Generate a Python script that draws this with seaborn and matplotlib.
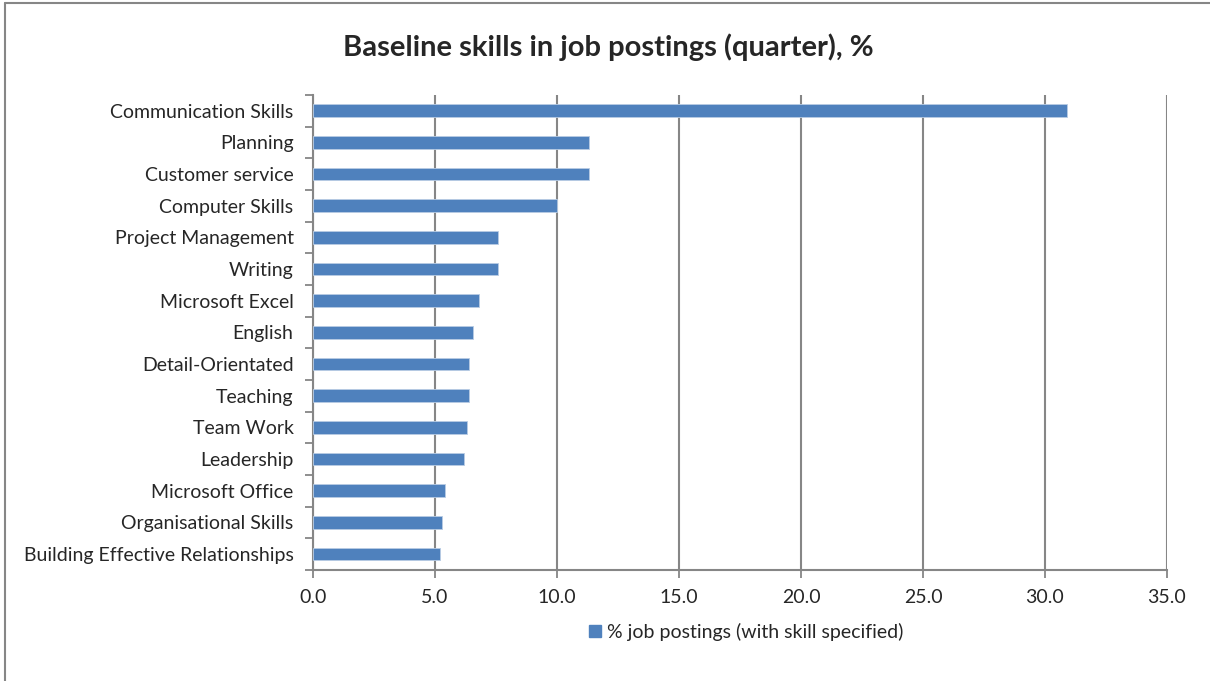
import numpy as np
import pandas as pd
import matplotlib
matplotlib.use("Agg")
import matplotlib.pyplot as plt
import seaborn as sns
from matplotlib.lines import Line2D
from matplotlib.patches import Patch

skills = ["Communication Skills", "Planning", "Customer service", "Computer Skills",
          "Project Management", "Writing", "Microsoft Excel", "English",
          "Detail-Orientated", "Teaching", "Team Work", "Leadership",
          "Microsoft Office", "Organisational Skills", "Building Effective Relationships"]
pct = [30.9, 11.3, 11.3, 10.0, 7.6, 7.6, 6.8, 6.55, 6.4, 6.4, 6.3, 6.2, 5.4, 5.3, 5.2]
x_ticks = [0, 5, 10, 15, 20, 25, 30, 35]
legend_label = "% job postings (with skill specified)"

df = pd.DataFrame({"skill": skills, "pct": pct})

sns.set_style("white")
plt.rcParams["font.family"] = ["Lato", "DejaVu Sans"]

fig = plt.figure(figsize=(12.1, 6.81), dpi=100)
ax = fig.add_axes([313 / 1210, 1 - 570 / 681, 854 / 1210, 475 / 681])

bar_col = "#4F81BD"
sns.barplot(data=df, y="skill", x="pct", color=bar_col, width=0.4,
            edgecolor="#B8CCE4", linewidth=0.6, saturation=1, ax=ax, zorder=3)

ax.set_xlim(0, 35)
ax.set_ylim(len(skills) - 0.5, -0.5)
ax.set_xticks(x_ticks)
ax.set_xticklabels([f"{v:.1f}" for v in x_ticks], fontsize=14)
ax.tick_params(axis="y", which="major", labelsize=14, length=0, pad=14)
ax.tick_params(axis="x", bottom=True, length=6, width=1.3, color="#868686", pad=8, direction="out")
ax.set_xlabel("")
ax.set_ylabel("")

# category boundary ticks like Excel
ax.set_yticks(np.arange(-0.5, len(skills), 1), minor=True)
ax.tick_params(axis="y", which="minor", left=True, length=6, width=1.3,
               color="#868686", direction="out")

ax.grid(axis="x", color="#868686", linewidth=1.5, zorder=0)
ax.grid(axis="y", visible=False)
for s in ["top", "right"]:
    ax.spines[s].set_visible(False)
for s in ["left", "bottom"]:
    ax.spines[s].set_color("#868686")
    ax.spines[s].set_linewidth(1.5)

fig.text(608 / 1210, 1 - 47 / 681, "Baseline skills in job postings (quarter), %",
         ha="center", va="center", fontsize=21, fontweight="bold")

handle = Patch(facecolor=bar_col, edgecolor=bar_col)
fig.legend([handle], [legend_label], loc="center", bbox_to_anchor=(746 / 1210, 1 - 632 / 681),
           frameon=False, fontsize=14, handlelength=0.6, handleheight=0.6, handletextpad=0.3)

# outer chart border (top and left edges visible)
fig.add_artist(Line2D([5 / 1210, 5 / 1210], [0, 1 - 3 / 681], color="#868686", lw=1.5,
                      transform=fig.transFigure))
fig.add_artist(Line2D([5 / 1210, 1], [1 - 3 / 681, 1 - 3 / 681], color="#868686", lw=1.5,
                      transform=fig.transFigure))

fig.savefig("out.png", dpi=100)
